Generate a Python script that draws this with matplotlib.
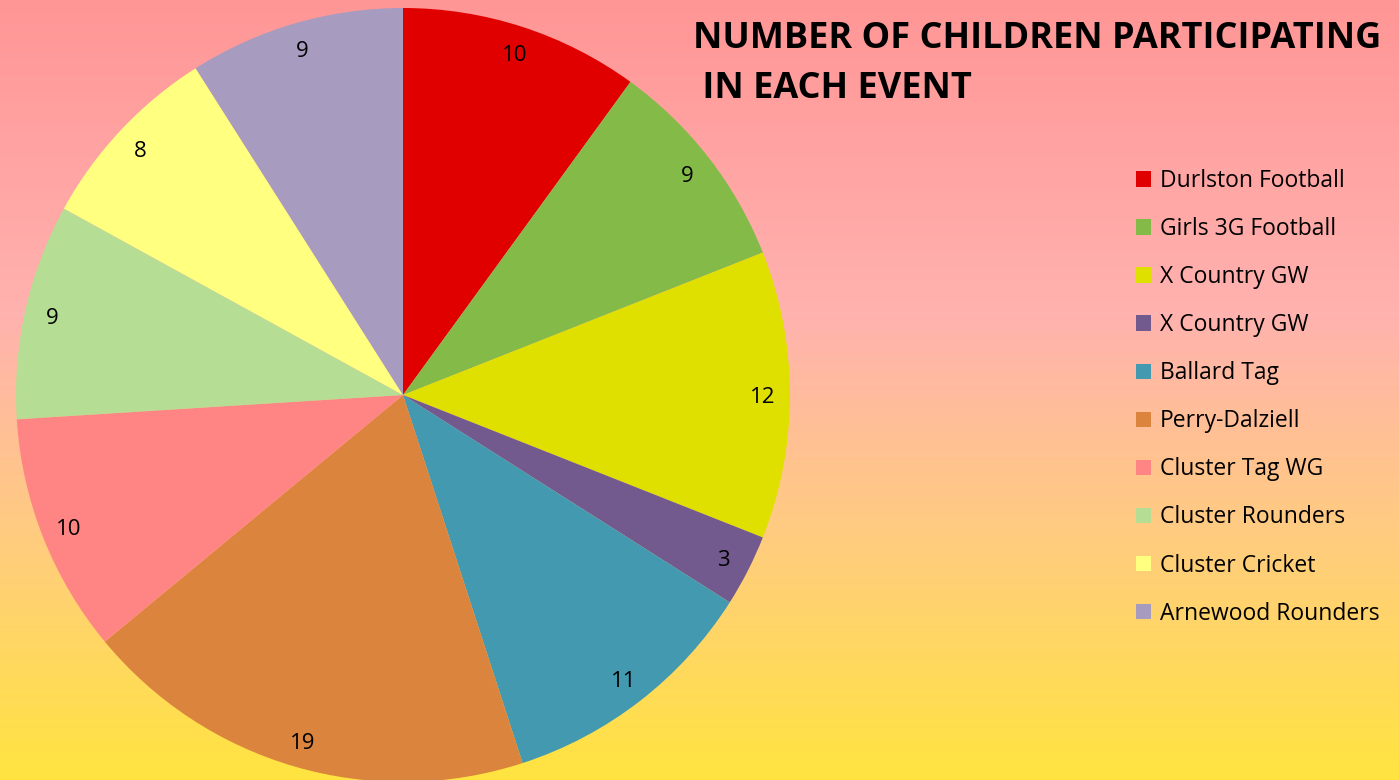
import numpy as np
import matplotlib
matplotlib.use('Agg')
import matplotlib.pyplot as plt
from matplotlib.patches import Patch
from matplotlib.colors import LinearSegmentedColormap

# data
events = ['Durlston Football', 'Girls 3G Football', 'X Country GW', 'X Country GW',
          'Ballard Tag', 'Perry-Dalziell', 'Cluster Tag WG', 'Cluster Rounders',
          'Cluster Cricket', 'Arnewood Rounders']
children = [10, 9, 12, 3, 11, 19, 10, 9, 8, 9]
colors = ['#E00000', '#84BA48', '#E0E000', '#725A8F', '#4299B0',
          '#DB843D', '#FF8585', '#B5DD93', '#FFFF80', '#A89BC0']

plt.rcParams['font.family'] = ['Open Sans', 'DejaVu Sans']

W, H = 1399, 780
fig = plt.figure(figsize=(W / 100, H / 100), dpi=100)

# gradient background
bg = fig.add_axes([0, 0, 1, 1], zorder=0)
cmap = LinearSegmentedColormap.from_list('bg', [
    (0.0, (1.0, 150/255, 150/255)),
    (0.4, (1.0, 178/255, 175/255)),
    (0.7, (1.0, 205/255, 125/255)),
    (1.0, (1.0, 228/255, 64/255)),
])
grad = np.linspace(0, 1, 256).reshape(-1, 1)
bg.imshow(grad, aspect='auto', cmap=cmap, extent=[0, 1, 1, 0])
bg.axis('off')

# pie
r = 387
cx, cy = 403, 395
ax = fig.add_axes([(cx - r) / W, (H - cy - r) / H, 2 * r / W, 2 * r / H], zorder=1)
wedges, texts = ax.pie(children, colors=colors, startangle=90, counterclock=False,
                       labels=[str(v) for v in children], labeldistance=0.93,
                       radius=1, wedgeprops=dict(linewidth=0),
                       textprops=dict(fontsize=16, color='black'))
for t in texts:
    t.set_horizontalalignment('center')
    t.set_verticalalignment('center_baseline')
ax.set_xlim(-1, 1)
ax.set_ylim(-1, 1)
ax.set_aspect('equal')
ax.axis('off')

fig.text(693 / W, 1 - 64 / H, 'NUMBER OF CHILDREN PARTICIPATING\n IN EACH EVENT',
         fontsize=26, fontweight='bold', ha='left', va='center', linespacing=1.5,
         zorder=3)

handles = [Patch(facecolor=c, edgecolor='none', label=e) for c, e in zip(colors, events)]
fig.legend(handles=handles, loc='upper left', bbox_to_anchor=(1136 / W, 1 - 169 / H),
           frameon=False, fontsize=16.5, handlelength=0.65, handleheight=0.65,
           handletextpad=0.4, labelspacing=1.05, borderpad=0, borderaxespad=0)

fig.savefig('out.png', dpi=100)
